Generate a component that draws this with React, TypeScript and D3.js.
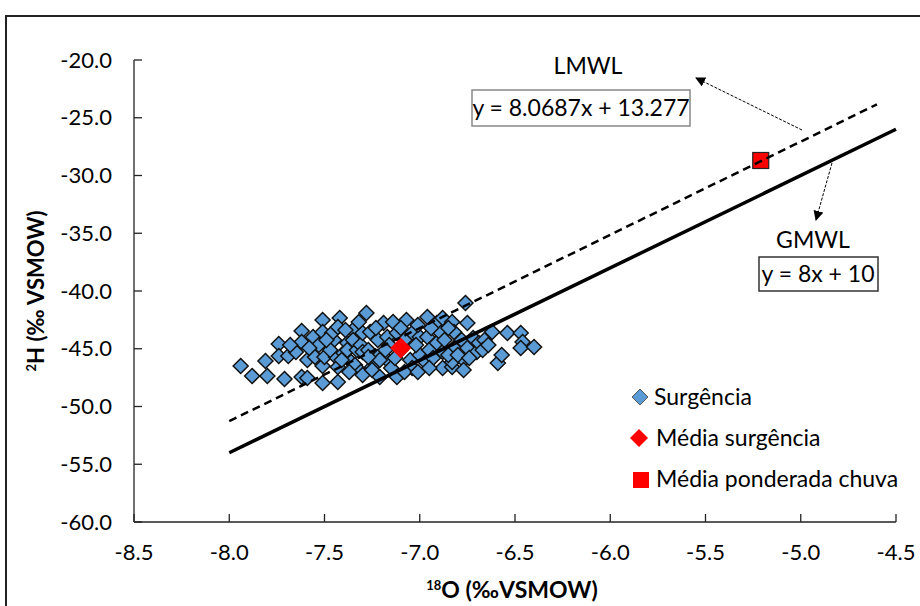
import React from "react";
import * as d3 from "d3";

// δ18O, δ2H values of springs (Surgência)
const surgenciaX = [
  -7.94, -7.88, -7.81, -7.80, -7.74, -7.74, -7.71, -7.69, -7.65, -7.62, -7.62, -7.62, -7.59, -7.59, -7.56, -7.55,
  -7.51, -7.51, -7.51, -7.51, -7.50, -7.45, -7.46, -7.44, -7.43, -7.42, -7.43, -7.43, -7.40, -7.38, -7.38, -7.35,
  -7.35, -7.36, -7.34, -7.33, -7.31, -7.31, -7.30, -7.30, -7.30, -7.28, -7.27, -7.25, -7.25, -7.22, -7.22, -7.21,
  -7.19, -7.17, -7.17, -7.15, -7.14, -7.12, -7.12, -7.07, -7.05, -7.04, -7.04, -7.00, -7.00, -6.96, -6.96, -6.95,
  -6.91, -6.91, -6.89, -6.88, -6.88, -6.88, -6.87, -6.83, -6.83, -6.83, -6.82, -6.82, -6.78, -6.77, -6.77, -6.76,
  -6.75, -6.75, -6.72, -6.70, -6.69, -6.66, -6.62, -6.59, -6.57, -6.54, -6.47, -6.46, -6.47, -6.40,
  -7.16, -7.10, -7.08, -7.02, -6.97, -6.93, -7.13, -7.18, -7.26, -7.39, -7.53, -7.47, -7.37, -7.08, -7.01, -6.95,
  -6.85, -6.80, -6.74, -6.67, -6.64, -6.85, -6.94, -7.01, -7.10, -7.23, -7.32, -7.49, -7.58, -7.68, -7.21, -7.27, -7.41,
];
const surgenciaY = [
  -46.49, -47.36, -46.06, -47.36, -44.59, -45.63, -47.62, -45.63, -45.28, -43.46, -44.42, -47.45, -45.97, -47.53, -43.98, -45.71,
  -42.51, -43.55, -46.49, -47.97, -45.71, -44.24, -43.64, -45.71, -47.88, -42.34, -43.12, -46.58, -45.37, -44.50, -45.11, -43.38,
  -44.24, -46.15, -46.41, -45.11, -44.68, -47.01, -43.64, -45.28, -47.27, -41.90, -45.11, -46.58, -46.84, -44.24, -45.71, -47.45,
  -42.77, -43.98, -45.97, -46.67, -42.68, -43.64, -47.45, -42.51, -45.97, -43.64, -46.67, -43.98, -45.54, -43.98, -42.25, -45.11,
  -42.77, -44.50, -43.64, -42.34, -45.28, -46.67, -44.24, -46.58, -42.68, -46.15, -43.55, -44.94, -44.24, -45.97, -46.84, -41.04,
  -42.77, -44.94, -44.07, -45.28, -44.50, -44.24, -43.55, -46.23, -45.54, -43.64, -43.64, -44.42, -44.94, -44.85,
  -44.68, -45.11, -44.24, -44.68, -46.15, -45.80, -45.80, -45.11, -43.55, -43.38, -44.68, -45.11, -47.01, -47.01, -47.01, -46.67,
  -45.54, -45.54, -45.80, -45.11, -44.68, -43.20, -43.20, -42.94, -43.20, -43.20, -42.68, -44.24, -44.94, -44.68, -45.97, -45.71, -45.97,
];
const mediaSurgencia = [-7.10, -44.94];
const mediaChuva = [-5.21, -28.7];

// Lines: LMWL y = 8.0687x + 13.277 ; GMWL y = 8x + 10
const lmwlSlope = 8.0687;
const lmwlIntercept = 13.277;
const lmwlRange = [-8.0, -4.6];
const gmwlSlope = 8;
const gmwlIntercept = 10;
const gmwlRange = [-8.0, -4.5];

const xTicks = [-8.5, -8.0, -7.5, -7.0, -6.5, -6.0, -5.5, -5.0, -4.5];
const yTicks = [-20, -25, -30, -35, -40, -45, -50, -55, -60];

const legendLabels = ["Surgência", "Média surgência", "Média ponderada chuva"];

const FONT = "Lato, 'Open Sans', sans-serif";
const BLUE = "#5B9BD5";

export default function App() {
  const W = 920, H = 606;
  const left = 134, right = 896, top = 60, bottom = 522;
  const x = d3.scaleLinear().domain([-8.5, -4.5]).range([left, right]);
  const y = d3.scaleLinear().domain([-60, -20]).range([bottom, top]);

  const diamond = (r: number) => `M0,${-r}L${r},0L0,${r}L${-r},0Z`;

  const lineGen = d3.line<number>().x((v) => x(v[0])).y((v) => y(v[1]));
  const lmwl = lineGen(lmwlRange.map((v) => [v, lmwlSlope * v + lmwlIntercept]) as any);
  const gmwl = lineGen(gmwlRange.map((v) => [v, gmwlSlope * v + gmwlIntercept]) as any);

  const fs = 22;
  const fl = 23;

  return (
    <svg width={W} height={H} style={{ position: "absolute", left: 0, top: 0, background: "#fff" }}>
      <defs>
        <marker id="ah" viewBox="0 0 10 10" refX="9" refY="5" markerWidth="10" markerHeight="10" markerUnits="userSpaceOnUse" orient="auto">
          <path d="M0,0L10,5L0,10Z" fill="#000" />
        </marker>
      </defs>
      <rect x={0} y={0} width={W} height={H} fill="#fff" />
      <rect x={6} y={16} width={W + 10} height={H + 10} fill="none" stroke="#222" strokeWidth={2} />

      {/* axes */}
      <line x1={left} y1={top} x2={left} y2={bottom} stroke="#222" strokeWidth={1.3} />
      <line x1={left} y1={bottom} x2={right} y2={bottom} stroke="#222" strokeWidth={1.3} />
      {yTicks.map((t) => (
        <g key={"y" + t}>
          <line x1={left} x2={left + 8} y1={y(t)} y2={y(t)} stroke="#222" strokeWidth={1.3} />
          <text x={112} y={y(t)} dy="0.35em" textAnchor="end" fontFamily={FONT} fontSize={fs} fill="#000">
            {t.toFixed(1)}
          </text>
        </g>
      ))}
      {xTicks.map((t) => (
        <g key={"x" + t}>
          <line x1={x(t)} x2={x(t)} y1={bottom} y2={bottom - 8} stroke="#222" strokeWidth={1.3} />
          <text x={x(t)} y={560} textAnchor="middle" fontFamily={FONT} fontSize={fs} fill="#000">
            {t.toFixed(1)}
          </text>
        </g>
      ))}

      {/* axis titles */}
      <text x={512} y={598} textAnchor="middle" fontFamily={FONT} fontSize={fl} fontWeight="bold" fill="#000">
        <tspan fontSize={13} dy="-8">18</tspan>
        <tspan dy="8">O (‰VSMOW)</tspan>
      </text>
      <text transform={`translate(44,${(top + bottom) / 2}) rotate(-90)`} textAnchor="middle" fontFamily={FONT} fontSize={fs} fontWeight="bold" fill="#000">
        <tspan fontSize={13} dy="-8">2</tspan>
        <tspan dy="8">H (‰ VSMOW)</tspan>
      </text>

      {/* scatter */}
      {surgenciaX.map((vx, i) => (
        <path key={i} d={diamond(7.5)} transform={`translate(${x(vx)},${y(surgenciaY[i])})`} fill={BLUE} stroke="#111" strokeWidth={1.5} />
      ))}
      <path d={diamond(10.5)} transform={`translate(${x(mediaSurgencia[0])},${y(mediaSurgencia[1])})`} fill="#FF0000" />
      <rect x={x(mediaChuva[0]) - 8} y={y(mediaChuva[1]) - 8} width={16} height={16} fill="#FF0000" stroke="#222" strokeWidth={1.2} />

      {/* lines */}
      <path d={lmwl || ""} fill="none" stroke="#000" strokeWidth={2.5} strokeDasharray="8,5" />
      <path d={gmwl || ""} fill="none" stroke="#000" strokeWidth={3.5} />

      {/* annotations */}
      <text x={588} y={74} textAnchor="middle" fontFamily={FONT} fontSize={fl} fill="#000">LMWL</text>
      <rect x={472} y={90} width={218} height={36} fill="#fff" stroke="#888" strokeWidth={1.5} />
      <text x={581} y={116} textAnchor="middle" fontFamily={FONT} fontSize={fl} fill="#000">y = 8.0687x + 13.277</text>
      <line x1={802} y1={130} x2={696} y2={78} stroke="#000" strokeWidth={1} strokeDasharray="3,1.5" markerEnd="url(#ah)" />

      <text x={813} y={248} textAnchor="middle" fontFamily={FONT} fontSize={fl} fill="#000">GMWL</text>
      <rect x={759} y={257} width={119} height={34} fill="#fff" stroke="#333" strokeWidth={1.5} />
      <text x={818} y={282} textAnchor="middle" fontFamily={FONT} fontSize={fl} fill="#000">y = 8x + 10</text>
      <line x1={832} y1={163} x2={816} y2={220} stroke="#000" strokeWidth={1} strokeDasharray="3,1.5" markerEnd="url(#ah)" />

      {/* legend */}
      <path d={diamond(8)} transform="translate(640,397)" fill={BLUE} stroke="#555" strokeWidth={1} />
      <text x={654} y={405} fontFamily={FONT} fontSize={fl} fill="#000">{legendLabels[0]}</text>
      <path d={diamond(9)} transform="translate(639,438)" fill="#FF0000" />
      <text x={656} y={446} fontFamily={FONT} fontSize={fl} fill="#000">{legendLabels[1]}</text>
      <rect x={633} y={472} width={16} height={16} fill="#FF0000" />
      <text x={656} y={487} fontFamily={FONT} fontSize={fl} fill="#000">{legendLabels[2]}</text>
    </svg>
  );
}
